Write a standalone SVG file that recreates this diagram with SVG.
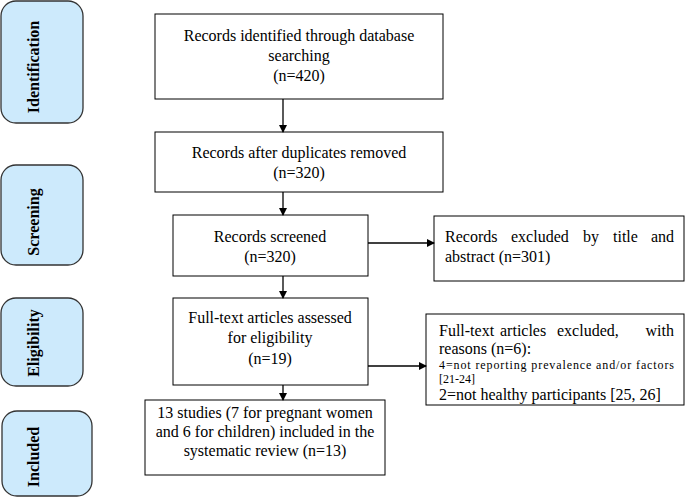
<svg xmlns="http://www.w3.org/2000/svg" width="685" height="497" viewBox="0 0 685 497">
<defs>
<style>
.phase{fill:#cdeafc;stroke:#333;stroke-width:1.3}
.box{fill:#fff;stroke:#000;stroke-width:1}
.c{text-anchor:middle}
.ln{stroke:#000;stroke-width:1.3;fill:none}
</style>
<marker id="ah" markerWidth="8" markerHeight="8" refX="7" refY="4" orient="auto" markerUnits="userSpaceOnUse">
<path d="M0,0 L8,4 L0,8 Z" fill="#000"/>
</marker>
</defs>
<rect width="685" height="497" fill="#fff"/>

<g font-family="Liberation Serif, Tinos, Times New Roman, DejaVu Serif, serif" font-size="16" font-weight="bold" text-anchor="middle" fill="#000">
<g id="phase-identification">
<rect class="phase" x="1" y="1" width="82" height="122" rx="15"/>
<text transform="translate(39,67) rotate(-90)">Identification</text>
</g>
<g id="phase-screening">
<rect class="phase" x="1" y="165" width="82" height="100" rx="15"/>
<text transform="translate(39,222) rotate(-90)">Screening</text>
</g>
<g id="phase-eligibility">
<rect class="phase" x="1" y="298" width="82" height="88" rx="15"/>
<text transform="translate(39,343) rotate(-90)">Eligibility</text>
</g>
<g id="phase-included">
<rect class="phase" x="2" y="411" width="90" height="85" rx="15"/>
<text transform="translate(39,457) rotate(-90)">Included</text>
</g>
</g>

<g font-family="Liberation Serif, Tinos, Times New Roman, DejaVu Serif, serif" font-size="16" fill="#000">
<g id="identified">
<rect class="box" x="155" y="14" width="288" height="85"/>
<text class="c" x="299" y="41">Records identified through database</text>
<text class="c" x="299" y="61">searching</text>
<text class="c" x="299" y="81">(n=420)</text>
</g>
<g id="duplicates">
<rect class="box" x="155" y="132" width="288" height="60"/>
<text class="c" x="299" y="158">Records after duplicates removed</text>
<text class="c" x="299" y="178">(n=320)</text>
</g>
<g id="screened">
<rect class="box" x="173" y="215" width="195" height="61"/>
<text class="c" x="270" y="242">Records screened</text>
<text class="c" x="270" y="262">(n=320)</text>
</g>
<g id="excluded-title">
<rect class="box" x="434" y="216" width="250" height="65"/>
<text x="445" y="242">Records</text>
<text x="511" y="242">excluded</text>
<text x="583" y="242">by</text>
<text x="613" y="242">title</text>
<text x="674" y="242" text-anchor="end">and</text>
<text x="445" y="262">abstract (n=301)</text>
</g>
<g id="fulltext">
<rect class="box" x="173" y="298" width="195" height="87"/>
<text class="c" x="270" y="323">Full-text articles assessed</text>
<text class="c" x="270" y="343">for eligibility</text>
<text class="c" x="270" y="364">(n=19)</text>
</g>
<g id="excluded-fulltext">
<rect class="box" x="426" y="314" width="258" height="91"/>
<text x="439" y="336">Full-text</text>
<text x="500" y="336">articles</text>
<text x="557" y="336">excluded,</text>
<text x="674" y="336" text-anchor="end">with</text>
<text x="439" y="354">reasons (n=6):</text>
<text x="439" y="369" font-size="12" textLength="235" lengthAdjust="spacing">4=not reporting prevalence and/or factors</text>
<text x="439" y="382.5" font-size="12">[21-24]</text>
<text x="439" y="399.5">2=not healthy participants [25, 26]</text>
</g>
<g id="included">
<rect class="box" x="145" y="400" width="240" height="75"/>
<text class="c" x="265" y="418">13 studies (7 for pregnant women</text>
<text class="c" x="265" y="437">and 6 for children) included in the</text>
<text class="c" x="265" y="456">systematic review (n=13)</text>
</g>
</g>

<g id="connectors">
<line class="ln" x1="283" y1="99" x2="283" y2="132" marker-end="url(#ah)"/>
<line class="ln" x1="283" y1="192" x2="283" y2="215" marker-end="url(#ah)"/>
<line class="ln" x1="283" y1="276" x2="283" y2="298" marker-end="url(#ah)"/>
<line class="ln" x1="283" y1="385" x2="283" y2="400" marker-end="url(#ah)"/>
<line class="ln" x1="368" y1="243" x2="434" y2="243" marker-end="url(#ah)"/>
<line class="ln" x1="368" y1="366" x2="426" y2="366" marker-end="url(#ah)"/>
</g>
</svg>
